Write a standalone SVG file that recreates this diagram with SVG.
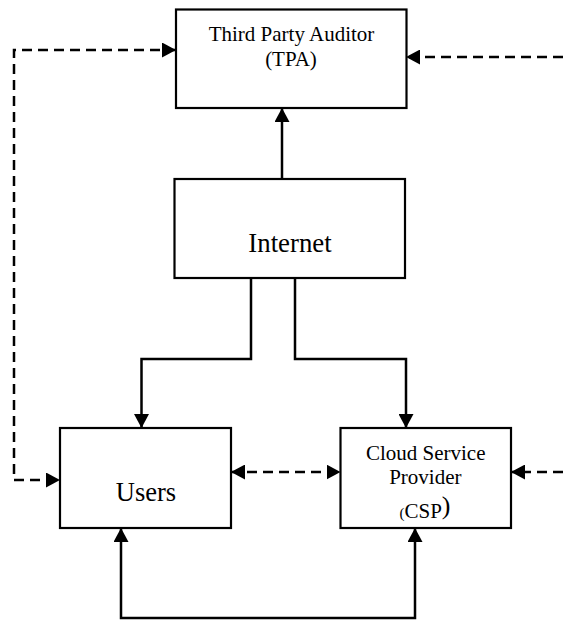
<svg xmlns="http://www.w3.org/2000/svg" width="563" height="621" viewBox="0 0 563 621">
  <style>
    .box { fill: #ffffff; stroke: #000000; stroke-width: 2.2; }
    .lbl { font-family: "Liberation Serif", "Times New Roman", serif; fill: #000000; text-anchor: middle; }
    .solid { fill: none; stroke: #000000; stroke-width: 2.5; }
    .dash { fill: none; stroke: #000000; stroke-width: 2.5; stroke-dasharray: 10 6; }
  </style>
  <defs>
    <marker id="arrow" markerUnits="userSpaceOnUse" markerWidth="14" markerHeight="15" refX="14" refY="7.5" orient="auto-start-reverse" viewBox="0 0 14 15">
      <path d="M0,0 L14,7.5 L0,15 Z" fill="#000000" stroke="none"/>
    </marker>
  </defs>

  <rect width="563" height="621" fill="#ffffff"/>

  <g id="connectors">
    <!-- Internet up to TPA -->
    <path class="solid" d="M282,179 V108" marker-end="url(#arrow)"/>
    <!-- Internet down to Users -->
    <path class="solid" d="M251,278 V359 H141.5 V428" marker-end="url(#arrow)"/>
    <!-- Internet down to CSP -->
    <path class="solid" d="M295,278 V359 H406 V428" marker-end="url(#arrow)"/>
    <!-- Bottom link between Users and CSP -->
    <path class="solid" d="M121,528 V618 H415 V528" marker-start="url(#arrow)" marker-end="url(#arrow)"/>
    <!-- Left dashed loop: TPA and Users -->
    <path class="dash" d="M176,50 H14 V480 H60" marker-start="url(#arrow)" marker-end="url(#arrow)"/>
    <!-- Right dashed feed into TPA -->
    <path class="dash" d="M563,57 H406" marker-end="url(#arrow)"/>
    <!-- Users and CSP dashed exchange -->
    <path class="dash" d="M231,472 H340.5" marker-start="url(#arrow)" marker-end="url(#arrow)"/>
    <!-- Right dashed feed into CSP -->
    <path class="dash" d="M563,472 H511" marker-end="url(#arrow)"/>
  </g>

  <g id="tpa">
    <rect class="box" x="176" y="9.5" width="230.5" height="98.5"/>
    <text class="lbl" x="291.5" y="40.5" font-size="21">Third Party Auditor</text>
    <text class="lbl" x="291" y="66" font-size="21">(TPA)</text>
  </g>

  <g id="internet">
    <rect class="box" x="174.5" y="179" width="230.5" height="99"/>
    <text class="lbl" x="290" y="252" font-size="26.8">Internet</text>
  </g>

  <g id="users">
    <rect class="box" x="60" y="428" width="171" height="100"/>
    <text class="lbl" x="146" y="501" font-size="26.5">Users</text>
  </g>

  <g id="csp">
    <rect class="box" x="340.5" y="428" width="170.5" height="100"/>
    <text class="lbl" x="425.7" y="459.5" font-size="21">Cloud Service</text>
    <text class="lbl" x="425.3" y="483.5" font-size="21">Provider</text>
    <text class="lbl" x="425" y="517.5" font-size="21"><tspan font-size="15">(</tspan>CSP<tspan font-size="26" dy="-4">)</tspan></text>
  </g>
</svg>
